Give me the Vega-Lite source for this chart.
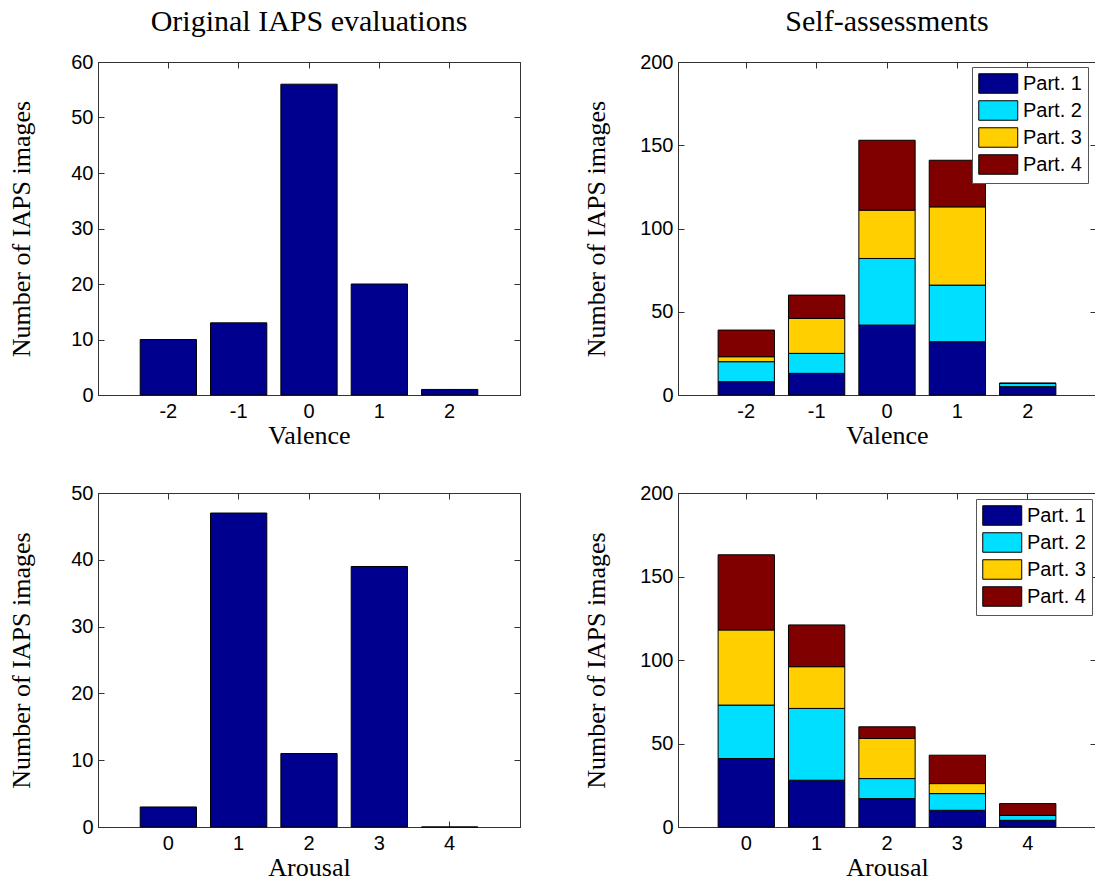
{
  "$schema": "https://vega.github.io/schema/vega-lite/v6.json",
  "padding": {"left": 8, "top": 6, "right": 0, "bottom": 0},
  "background": "white",
  "datasets": {
    "orig_val": [
      {"valence": -2, "count": 10},
      {"valence": -1, "count": 13},
      {"valence": 0, "count": 56},
      {"valence": 1, "count": 20},
      {"valence": 2, "count": 1}
    ],
    "orig_aro": [
      {"arousal": 0, "count": 3},
      {"arousal": 1, "count": 47},
      {"arousal": 2, "count": 11},
      {"arousal": 3, "count": 39},
      {"arousal": 4, "count": 0}
    ],
    "self_val": [
      {"valence": -2, "part": "Part. 1", "count": 8},
      {"valence": -2, "part": "Part. 2", "count": 12},
      {"valence": -2, "part": "Part. 3", "count": 3},
      {"valence": -2, "part": "Part. 4", "count": 16},
      {"valence": -1, "part": "Part. 1", "count": 13},
      {"valence": -1, "part": "Part. 2", "count": 12},
      {"valence": -1, "part": "Part. 3", "count": 21},
      {"valence": -1, "part": "Part. 4", "count": 14},
      {"valence": 0, "part": "Part. 1", "count": 42},
      {"valence": 0, "part": "Part. 2", "count": 40},
      {"valence": 0, "part": "Part. 3", "count": 29},
      {"valence": 0, "part": "Part. 4", "count": 42},
      {"valence": 1, "part": "Part. 1", "count": 32},
      {"valence": 1, "part": "Part. 2", "count": 34},
      {"valence": 1, "part": "Part. 3", "count": 47},
      {"valence": 1, "part": "Part. 4", "count": 28},
      {"valence": 2, "part": "Part. 1", "count": 5},
      {"valence": 2, "part": "Part. 2", "count": 2},
      {"valence": 2, "part": "Part. 3", "count": 0},
      {"valence": 2, "part": "Part. 4", "count": 0}
    ],
    "self_aro": [
      {"arousal": 0, "part": "Part. 1", "count": 41},
      {"arousal": 0, "part": "Part. 2", "count": 32},
      {"arousal": 0, "part": "Part. 3", "count": 45},
      {"arousal": 0, "part": "Part. 4", "count": 45},
      {"arousal": 1, "part": "Part. 1", "count": 28},
      {"arousal": 1, "part": "Part. 2", "count": 43},
      {"arousal": 1, "part": "Part. 3", "count": 25},
      {"arousal": 1, "part": "Part. 4", "count": 25},
      {"arousal": 2, "part": "Part. 1", "count": 17},
      {"arousal": 2, "part": "Part. 2", "count": 12},
      {"arousal": 2, "part": "Part. 3", "count": 24},
      {"arousal": 2, "part": "Part. 4", "count": 7},
      {"arousal": 3, "part": "Part. 1", "count": 10},
      {"arousal": 3, "part": "Part. 2", "count": 10},
      {"arousal": 3, "part": "Part. 3", "count": 6},
      {"arousal": 3, "part": "Part. 4", "count": 17},
      {"arousal": 4, "part": "Part. 1", "count": 4},
      {"arousal": 4, "part": "Part. 2", "count": 3},
      {"arousal": 4, "part": "Part. 3", "count": 0},
      {"arousal": 4, "part": "Part. 4", "count": 7}
    ]
  },
  "columns": 2,
  "bounds": "flush",
  "spacing": {"column": 158, "row": 98},
  "concat": [
    {
      "width": 422,
      "height": 333,
      "title": "Original IAPS evaluations",
      "data": {"name": "orig_val"},
      "layer": [
        {
          "mark": {"type": "bar", "color": "#00008F", "stroke": "black", "strokeWidth": 1},
          "encoding": {
            "x": {"field": "valence", "type": "ordinal", "scale": {"paddingInner": 0.2, "paddingOuter": 0.6}, "axis": {"title": "Valence"}},
            "y": {"field": "count", "type": "quantitative", "scale": {"domain": [0, 60], "nice": false}, "axis": {"title": "Number of IAPS images", "values": [0, 10, 20, 30, 40, 50, 60], "titlePadding": 36}}
          }
        },
        {
          "mark": {"type": "bar", "opacity": 0},
          "encoding": {
            "x": {"field": "valence", "type": "ordinal", "axis": {"orient": "top", "labels": false, "title": null}},
            "y": {"field": "count", "type": "quantitative", "axis": {"orient": "right", "labels": false, "title": null, "values": [0, 10, 20, 30, 40, 50, 60]}}
          }
        }
      ],
      "resolve": {"axis": {"x": "independent", "y": "independent"}}
    },
    {
      "width": 418,
      "height": 333,
      "title": "Self-assessments",
      "data": {"name": "self_val"},
      "layer": [
        {
          "mark": {"type": "bar", "stroke": "black", "strokeWidth": 1},
          "encoding": {
            "x": {"field": "valence", "type": "ordinal", "scale": {"paddingInner": 0.2, "paddingOuter": 0.57}, "axis": {"title": "Valence"}},
            "y": {"field": "count", "type": "quantitative", "stack": "zero", "scale": {"domain": [0, 200], "nice": false}, "axis": {"title": "Number of IAPS images", "values": [0, 50, 100, 150, 200], "titlePadding": 30}},
            "color": {"field": "part", "type": "nominal", "scale": {"domain": ["Part. 1", "Part. 2", "Part. 3", "Part. 4"], "range": ["#00008F", "#00DFFF", "#FFCF00", "#800000"]}, "legend": {"legendX": 294, "legendY": 5}},
            "order": {"field": "part", "type": "nominal", "sort": "ascending"}
          }
        },
        {
          "mark": {"type": "bar", "opacity": 0},
          "encoding": {
            "x": {"field": "valence", "type": "ordinal", "axis": {"orient": "top", "labels": false, "title": null}},
            "y": {"field": "count", "type": "quantitative", "axis": {"orient": "right", "labels": false, "title": null, "values": [0, 50, 100, 150, 200]}}
          }
        }
      ],
      "resolve": {"axis": {"x": "independent", "y": "independent"}}
    },
    {
      "width": 422,
      "height": 334,
      "data": {"name": "orig_aro"},
      "layer": [
        {
          "mark": {"type": "bar", "color": "#00008F", "stroke": "black", "strokeWidth": 1},
          "encoding": {
            "x": {"field": "arousal", "type": "ordinal", "scale": {"paddingInner": 0.2, "paddingOuter": 0.6}, "axis": {"title": "Arousal"}},
            "y": {"field": "count", "type": "quantitative", "scale": {"domain": [0, 50], "nice": false}, "axis": {"title": "Number of IAPS images", "values": [0, 10, 20, 30, 40, 50], "titlePadding": 36}}
          }
        },
        {
          "mark": {"type": "bar", "opacity": 0},
          "encoding": {
            "x": {"field": "arousal", "type": "ordinal", "axis": {"orient": "top", "labels": false, "title": null}},
            "y": {"field": "count", "type": "quantitative", "axis": {"orient": "right", "labels": false, "title": null, "values": [0, 10, 20, 30, 40, 50]}}
          }
        }
      ],
      "resolve": {"axis": {"x": "independent", "y": "independent"}}
    },
    {
      "width": 418,
      "height": 334,
      "data": {"name": "self_aro"},
      "layer": [
        {
          "mark": {"type": "bar", "stroke": "black", "strokeWidth": 1},
          "encoding": {
            "x": {"field": "arousal", "type": "ordinal", "scale": {"paddingInner": 0.2, "paddingOuter": 0.57}, "axis": {"title": "Arousal"}},
            "y": {"field": "count", "type": "quantitative", "stack": "zero", "scale": {"domain": [0, 200], "nice": false}, "axis": {"title": "Number of IAPS images", "values": [0, 50, 100, 150, 200], "titlePadding": 30}},
            "color": {"field": "part", "type": "nominal", "scale": {"domain": ["Part. 1", "Part. 2", "Part. 3", "Part. 4"], "range": ["#00008F", "#00DFFF", "#FFCF00", "#800000"]}, "legend": {"legendX": 298, "legendY": 6}},
            "order": {"field": "part", "type": "nominal", "sort": "ascending"}
          }
        },
        {
          "mark": {"type": "bar", "opacity": 0},
          "encoding": {
            "x": {"field": "arousal", "type": "ordinal", "axis": {"orient": "top", "labels": false, "title": null}},
            "y": {"field": "count", "type": "quantitative", "axis": {"orient": "right", "labels": false, "title": null, "values": [0, 50, 100, 150, 200]}}
          }
        }
      ],
      "resolve": {"axis": {"x": "independent", "y": "independent"}}
    }
  ],
  "resolve": {"scale": {"color": "independent"}, "legend": {"color": "independent"}},
  "config": {
    "font": "Liberation Sans",
    "view": {"stroke": "#333333", "strokeWidth": 1},
    "axis": {
      "grid": false,
      "tickSize": -6,
      "tickColor": "#333333",
      "tickWidth": 1,
      "domainColor": "#333333",
      "domainWidth": 1,
      "labelFont": "Liberation Sans",
      "labelFontSize": 20,
      "labelColor": "black",
      "titleFont": "Liberation Serif",
      "titleFontSize": 26,
      "titleFontWeight": "normal",
      "titleColor": "black"
    },
    "axisX": {"labelAngle": 0, "labelPadding": 12, "titlePadding": 1},
    "axisY": {"labelPadding": 11},
    "title": {"font": "Liberation Serif", "fontSize": 30, "fontWeight": "normal", "color": "black", "anchor": "middle", "offset": 15},
    "legend": {
      "orient": "none",
      "title": null,
      "symbolType": "M-1,-1H3V1H-1Z",
      "symbolSize": 380,
      "symbolStrokeColor": "black",
      "symbolStrokeWidth": 1,
      "symbolOpacity": 1,
      "labelFont": "Liberation Sans",
      "labelFontSize": 20,
      "labelColor": "black",
      "labelOffset": 24,
      "rowPadding": 2,
      "padding": 6,
      "strokeColor": "#555555",
      "fillColor": "white"
    }
  }
}
